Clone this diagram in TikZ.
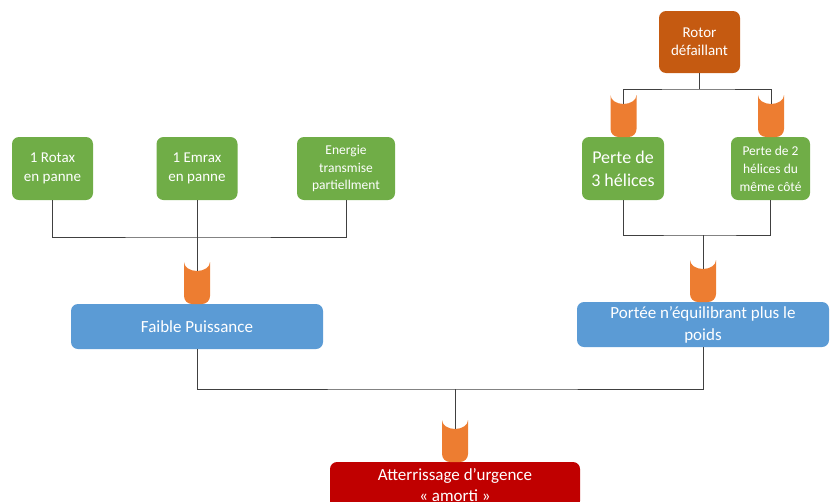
\documentclass[tikz,border=0pt]{standalone}
\usepackage{fontspec}
\setmainfont{Carlito}
\definecolor{leafgreen}{HTML}{70AD47}
\definecolor{midblue}{HTML}{5B9BD5}
\definecolor{deepred}{HTML}{C00000}
\definecolor{rust}{HTML}{C55A11}
\definecolor{gateorange}{HTML}{ED7D31}
\definecolor{wire}{HTML}{404040}
\tikzset{
  box/.style={rectangle, rounded corners=7pt, text=white, align=center, inner sep=2pt},
  leaf/.style={box, fill=leafgreen},
  event/.style={box, fill=midblue},
  link/.style={draw=wire, line width=0.9pt},
  gate/.pic={
    \fill[gateorange] (-13,0) arc[start angle=180, end angle=0, x radius=13, y radius=9]
      -- (13,34) arc[start angle=0, end angle=90, radius=8]
      -- (-5,42) arc[start angle=90, end angle=180, radius=8] -- cycle;
    \coordinate (-top) at (0,9);
  }
}
\begin{document}
\begin{tikzpicture}[x=1pt, y=-1pt]
\useasboundingbox (0,0) rectangle (834,501);
\clip (0,0) rectangle (834,501);

% top event of the right branch
\node[box, fill=rust, minimum width=81pt, minimum height=62pt, font=\fontsize{15}{18}\selectfont]
  (rotor) at (699.5,42) {Rotor\\défaillant};

% leaves
\node[leaf, minimum width=82pt, minimum height=63pt, font=\fontsize{18}{23}\selectfont]
  (p3) at (623,168.5) {Perte de\\3 hélices};
\node[leaf, minimum width=79pt, minimum height=63pt, font=\fontsize{13.5}{18}\selectfont]
  (p2) at (770.5,168.5) {Perte de 2\\hélices du\\même côté};
\node[leaf, minimum width=81pt, minimum height=63pt, font=\fontsize{15}{19}\selectfont]
  (rotax) at (52.5,168.5) {1 Rotax\\en panne};
\node[leaf, minimum width=81pt, minimum height=63pt, font=\fontsize{15}{19}\selectfont]
  (emrax) at (197,168.5) {1 Emrax\\en panne};
\node[leaf, minimum width=98pt, minimum height=63pt, font=\fontsize{13.5}{17.5}\selectfont]
  (energie) at (346,168.5) {Energie\\transmise\\partiellment};

% intermediate events
\node[event, minimum width=252pt, minimum height=45pt, font=\fontsize{17}{22}\selectfont]
  (faible) at (197,326.5) {Faible Puissance};
\node[event, minimum width=252pt, minimum height=45pt, font=\fontsize{17}{22}\selectfont]
  (portee) at (703,324.5) {Portée n’équilibrant plus le\\poids};

% final event
\node[box, fill=deepred, minimum width=250pt, minimum height=46pt, font=\fontsize{17}{21}\selectfont]
  (atter) at (455,485) {Atterrissage d’urgence\\« amorti »};

% AND gates
\pic (g1) at (623.5,95) {gate};
\pic (g2) at (771,95) {gate};
\pic (g3) at (197,262) {gate};
\pic (g4) at (703,260) {gate};
\pic (g5) at (455,420) {gate};

% junctions
\coordinate (j1) at (699.5,89);
\coordinate (j2) at (197,237);
\coordinate (j3) at (703,235);
\coordinate (j4) at (455,389);

% connectors
\draw[link] (rotor.south) -- (j1);
\draw[link] (g1-top) |- (j1) -| (g2-top);
\draw[link] (rotax.south) |- (j2) -| (energie.south);
\draw[link] (emrax.south) -- (g3-top);
\draw[link] (p3.south) |- (j3) -| (p2.south);
\draw[link] (j3) -- (g4-top);
\draw[link] (faible.south) |- (j4) -| (portee.south);
\draw[link] (j4) -- (g5-top);
\end{tikzpicture}
\end{document}
